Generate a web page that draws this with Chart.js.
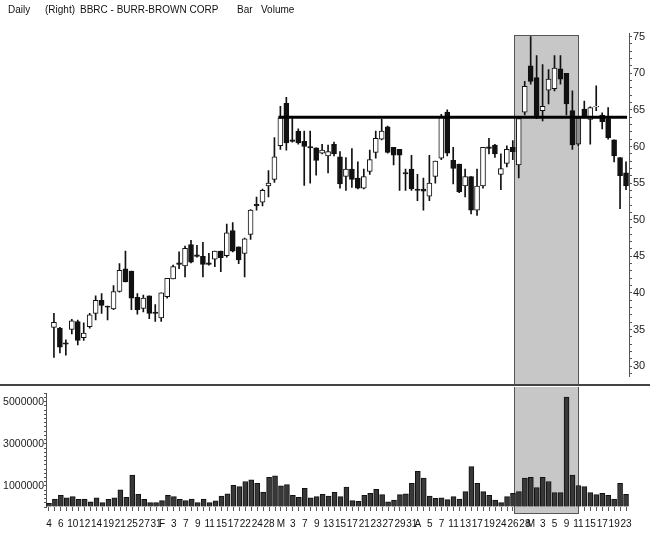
<!DOCTYPE html>
<html>
<head>
<meta charset="utf-8">
<script src="https://cdn.jsdelivr.net/npm/chart.js@4.4.1/dist/chart.umd.min.js"></script>
<style>
  html, body { margin: 0; padding: 0; background: #fff; }
  #page { position: relative; width: 656px; height: 535px; overflow: hidden; font-family: "Liberation Sans", Arial, sans-serif; }
  .hdr { position: absolute; top: 4px; font-size: 10px; line-height: 12px; color: #111; white-space: nowrap; }
  #priceBox { position: absolute; left: 0; top: 0; width: 656px; height: 384px; }
  #volBox { position: absolute; left: 0; top: 387px; width: 656px; height: 148px; }
  #sep { position: absolute; left: 0; top: 384px; width: 650px; height: 2px; background: #444; }
</style>
</head>
<body>
<div id="page">
  <div id="priceBox"><canvas id="priceChart" width="656" height="384"></canvas></div>
  <div id="volBox"><canvas id="volChart" width="656" height="148"></canvas></div>
  <div id="sep"></div>
  <span class="hdr" style="left:8px">Daily</span>
  <span class="hdr" style="left:45px">(Right)</span>
  <span class="hdr" style="left:80px">BBRC - BURR-BROWN CORP</span>
  <span class="hdr" style="left:237px">Bar</span>
  <span class="hdr" style="left:261px">Volume</span>
</div>
<script>
// trading days Jan 4 - May 23 (2000), every other day labelled
const dayLabels = [
  '4','','6','','10','','12','','14','','19','','21','','25','','27','','31','F',
  '','3','','7','','9','','11','','15','','17','','22','','24','','28','','M',
  '','3','','7','','9','','13','','15','','17','','21','','23','','27','','29',
  '','31','A','','5','','7','','11','','13','','17','','19','','24','','26','',
  '28','M','','3','','5','','9','','11','','15','','17','','19','','23'
];

// OHLC (first day has volume only)
const opens = [
  null, 35.3, 35.2, 33.2, 35.0, 36.1, 33.9, 35.4, 37.2, 39.0,
  38.2, 37.8, 40.2, 43.3, 43.0, 39.4, 37.9, 39.6, 37.4, 36.6,
  39.5, 41.9, 44.1, 43.7, 46.6, 45.2, 45.0, 44.1, 44.6, 45.7,
  45.1, 48.5, 46.3, 45.4, 48.0, 52.1, 52.4, 54.6, 55.5, 60.1,
  65.9, 60.9, 62.1, 60.7, 60.0, 59.8, 59.1, 58.7, 60.3, 58.6,
  55.9, 56.9, 55.7, 54.3, 56.6, 59.2, 61.0, 62.7, 59.9, 59.6,
  56.45, 56.9, 54.2, 54.2, 53.2, 55.9, 58.4, 64.7, 58.1, 57.6,
  54.6, 55.9, 51.3, 54.6, 59.95, 60.2, 56.2, 57.7, 59.9, 57.5,
  64.7, 71.0, 69.4, 64.9, 67.7, 67.9, 70.6, 70.0, 64.9, 60.3,
  65.1, 63.7, 65.4, 64.3, 63.8, 60.9, 58.5, 56.4
];
const highs = [
  null, 37.2, 35.3, 33.6, 36.4, 36.3, 35.9, 37.2, 39.6, 39.9,
  38.2, 41.0, 44.0, 45.7, 43.0, 39.9, 39.7, 39.6, 38.4, 40.0,
  42.0, 43.8, 45.6, 46.4, 47.2, 46.5, 46.9, 45.4, 45.7, 45.7,
  49.4, 49.6, 46.3, 47.5, 51.4, 53.1, 54.2, 56.7, 61.2, 65.5,
  66.7, 63.8, 62.4, 62.1, 62.1, 59.8, 60.3, 60.2, 60.6, 59.3,
  58.5, 59.7, 57.9, 56.9, 59.5, 62.1, 63.7, 62.8, 59.9, 59.6,
  56.9, 58.8, 56.2, 55.7, 58.8, 58.0, 64.4, 65.0, 59.9, 57.6,
  56.9, 55.9, 56.9, 59.9, 61.1, 60.3, 59.0, 60.1, 60.8, 64.1,
  68.9, 75.0, 72.4, 71.2, 70.5, 72.4, 72.4, 70.0, 67.6, 64.1,
  66.2, 65.4, 68.3, 64.6, 65.3, 60.9, 58.5, 57.9
];
const lows = [
  null, 31.2, 31.8, 31.5, 34.4, 32.9, 33.5, 35.2, 36.3, 37.2,
  36.3, 37.7, 40.1, 41.5, 37.7, 37.1, 37.4, 36.5, 36.1, 36.1,
  39.3, 41.9, 43.3, 42.2, 44.1, 44.9, 42.2, 43.8, 43.6, 42.9,
  44.9, 45.6, 44.0, 42.2, 47.3, 51.3, 51.9, 53.1, 55.1, 59.6,
  59.5, 60.6, 60.3, 54.7, 55.0, 56.1, 59.0, 56.4, 58.7, 54.3,
  54.0, 54.4, 54.2, 54.2, 56.2, 58.4, 60.9, 59.1, 57.5, 54.0,
  54.0, 54.0, 52.6, 51.3, 52.6, 55.0, 58.2, 58.7, 54.9, 53.7,
  53.1, 50.8, 50.6, 54.3, 59.0, 58.5, 54.1, 57.2, 58.2, 55.7,
  64.3, 68.5, 63.8, 63.5, 65.8, 67.6, 68.5, 64.3, 59.6, 60.1,
  63.9, 60.3, 64.9, 62.4, 61.0, 57.9, 51.5, 54.1
];
const closes = [
  null, 36.0, 32.6, 33.0, 36.2, 33.5, 34.5, 37.0, 39.0, 38.3,
  38.05, 40.2, 43.1, 41.5, 39.3, 37.7, 39.3, 37.2, 37.2, 40.0,
  42.0, 43.6, 43.9, 46.1, 44.2, 45.0, 43.9, 43.9, 45.7, 44.8,
  48.2, 45.7, 44.5, 47.4, 51.3, 51.9, 54.0, 55.0, 58.6, 63.9,
  60.5, 60.7, 60.5, 60.0, 59.8, 58.1, 59.5, 59.3, 59.0, 54.9,
  56.9, 55.5, 54.3, 55.9, 58.2, 61.1, 62.1, 59.2, 58.8, 58.8,
  56.25, 54.2, 54.0, 53.9, 55.0, 58.0, 64.1, 59.1, 57.0, 53.8,
  55.9, 51.3, 54.6, 59.9, 59.75, 59.0, 57.0, 59.6, 59.3, 63.8,
  68.2, 68.9, 63.9, 65.5, 69.2, 70.7, 69.2, 65.8, 60.2, 63.9,
  64.1, 65.3, 65.5, 63.4, 61.2, 58.7, 56.0, 54.6
];

const volumes = [
  170000, 380000, 560000, 430000, 490000, 370000, 380000, 240000, 430000, 210000,
  370000, 430000, 810000, 460000, 1520000, 600000, 370000, 210000, 210000, 300000,
  560000, 490000, 370000, 300000, 380000, 210000, 380000, 210000, 290000, 520000,
  630000, 1030000, 970000, 1210000, 1290000, 1130000, 710000, 1410000, 1480000, 1000000,
  1060000, 560000, 460000, 890000, 430000, 490000, 600000, 520000, 700000, 490000,
  950000, 300000, 270000, 560000, 650000, 840000, 590000, 240000, 330000, 590000,
  620000, 1130000, 1700000, 1370000, 520000, 410000, 440000, 350000, 490000, 380000,
  730000, 1920000, 1130000, 730000, 560000, 330000, 210000, 490000, 650000, 730000,
  1370000, 1410000, 920000, 1410000, 1210000, 680000, 680000, 5220000, 1520000, 1020000,
  970000, 680000, 590000, 650000, 560000, 380000, 1130000, 600000
];

const priceTicks = [30, 35, 40, 45, 50, 55, 60, 65, 70, 75];
const volumeTicks = [1000000, 3000000, 5000000];

// resistance line and highlighted period (category positions)
const LEVEL = 64;
const LEVEL_FROM = 39;
const LEVEL_TO = 97;
const SHADE_FROM = 78.2;
const SHADE_TO = 88.95;
const GRAY_CANDLE = 89;

const FONT = '"Liberation Sans", Arial, sans-serif';
Chart.defaults.font.family = FONT;
Chart.defaults.color = '#111';

const bodies = opens.map((o, i) => (o === null ? null : [o, closes[i]]));
const wicks = highs.map((h, i) => (h === null ? null : [lows[i], h]));
const bodyFill = opens.map((o, i) => {
  if (o === null) return '#fff';
  if (i === GRAY_CANDLE) return '#8e8e8e';
  return closes[i] >= o ? '#fff' : '#111';
});

// grey box behind the bars, shared by both panels
function shadePlugin(top, bottom) {
  return {
    id: 'shade',
    beforeDatasetsDraw(chart) {
      const { ctx, scales } = chart;
      const x0 = Math.round(scales.x.getPixelForValue(SHADE_FROM));
      const x1 = Math.round(scales.x.getPixelForValue(SHADE_TO));
      ctx.save();
      ctx.fillStyle = '#c7c7c7';
      ctx.fillRect(x0, top, x1 - x0, bottom - top);
      ctx.strokeStyle = '#555';
      ctx.lineWidth = 1;
      ctx.strokeRect(x0 + 0.5, top + 0.5, x1 - x0, bottom - top);
      ctx.restore();
    },
  };
}

const levelPlugin = {
  id: 'level',
  afterDatasetsDraw(chart) {
    const { ctx, scales } = chart;
    const yy = scales.y.getPixelForValue(LEVEL);
    ctx.save();
    ctx.strokeStyle = '#000';
    ctx.lineWidth = 3;
    ctx.beginPath();
    ctx.moveTo(scales.x.getPixelForValue(LEVEL_FROM) - 2, yy);
    ctx.lineTo(scales.x.getPixelForValue(LEVEL_TO) + 1, yy);
    ctx.stroke();
    ctx.restore();
  },
};

// ========================================
// PRICE PANEL
// ========================================
new Chart(document.getElementById('priceChart'), {
  type: 'bar',
  data: {
    labels: dayLabels,
    datasets: [
      {
        label: 'body',
        data: bodies,
        backgroundColor: bodyFill,
        borderColor: '#111',
        borderWidth: 1,
        borderSkipped: false,
        barThickness: 5,
        grouped: false,
        order: 0,
      },
      {
        label: 'wick',
        data: wicks,
        backgroundColor: '#111',
        borderWidth: 0,
        barThickness: 1,
        grouped: false,
        order: 1,
      },
    ],
  },
  options: {
    responsive: false,
    animation: false,
    layout: { padding: { left: 45, right: 0, top: 33, bottom: 6 } },
    plugins: { legend: { display: false }, tooltip: { enabled: false } },
    scales: {
      x: { display: false, offset: true },
      y: {
        position: 'right',
        min: 28.6,
        max: 75.5,
        afterFit: (scale) => { scale.width = 27; },
        border: { display: true, color: '#555', width: 1 },
        grid: { drawOnChartArea: false, tickLength: 3, color: '#555' },
        ticks: {
          stepSize: 1,
          autoSkip: false,
          includeBounds: false,
          padding: 1,
          font: { size: 11 },
          color: '#222',
          callback: (v) => (priceTicks.includes(v) ? String(v) : ''),
        },
      },
    },
  },
  plugins: [shadePlugin(35, 400), levelPlugin],
});

// ========================================
// VOLUME PANEL
// ========================================
new Chart(document.getElementById('volChart'), {
  type: 'bar',
  data: {
    labels: dayLabels,
    datasets: [
      {
        label: 'Volume',
        data: volumes,
        backgroundColor: '#383838',
        borderColor: '#111',
        borderWidth: 1,
        barThickness: 5,
      },
    ],
  },
  options: {
    responsive: false,
    animation: false,
    layout: { padding: { left: 0, right: 27, top: 6, bottom: 0 } },
    plugins: { legend: { display: false }, tooltip: { enabled: false } },
    scales: {
      x: {
        offset: true,
        afterFit: (scale) => { scale.height = 28; },
        border: { display: false },
        grid: { drawOnChartArea: false, offset: false, tickLength: 4, color: '#555' },
        ticks: {
          autoSkip: false,
          maxRotation: 0,
          minRotation: 0,
          padding: 7,
          font: { size: 10 },
          color: '#111',
        },
      },
      y: {
        position: 'left',
        min: 0,
        max: 5400000,
        afterFit: (scale) => { scale.width = 46; },
        border: { display: true, color: '#555', width: 1 },
        grid: { drawOnChartArea: false, tickLength: 2, color: '#555' },
        ticks: {
          stepSize: 200000,
          autoSkip: false,
          includeBounds: false,
          padding: 0,
          font: { size: 10.5 },
          color: '#222',
          callback: (v) => (volumeTicks.includes(v) ? String(v) : ''),
        },
      },
    },
  },
  plugins: [shadePlugin(-5, 126)],
});
</script>
</body>
</html>
